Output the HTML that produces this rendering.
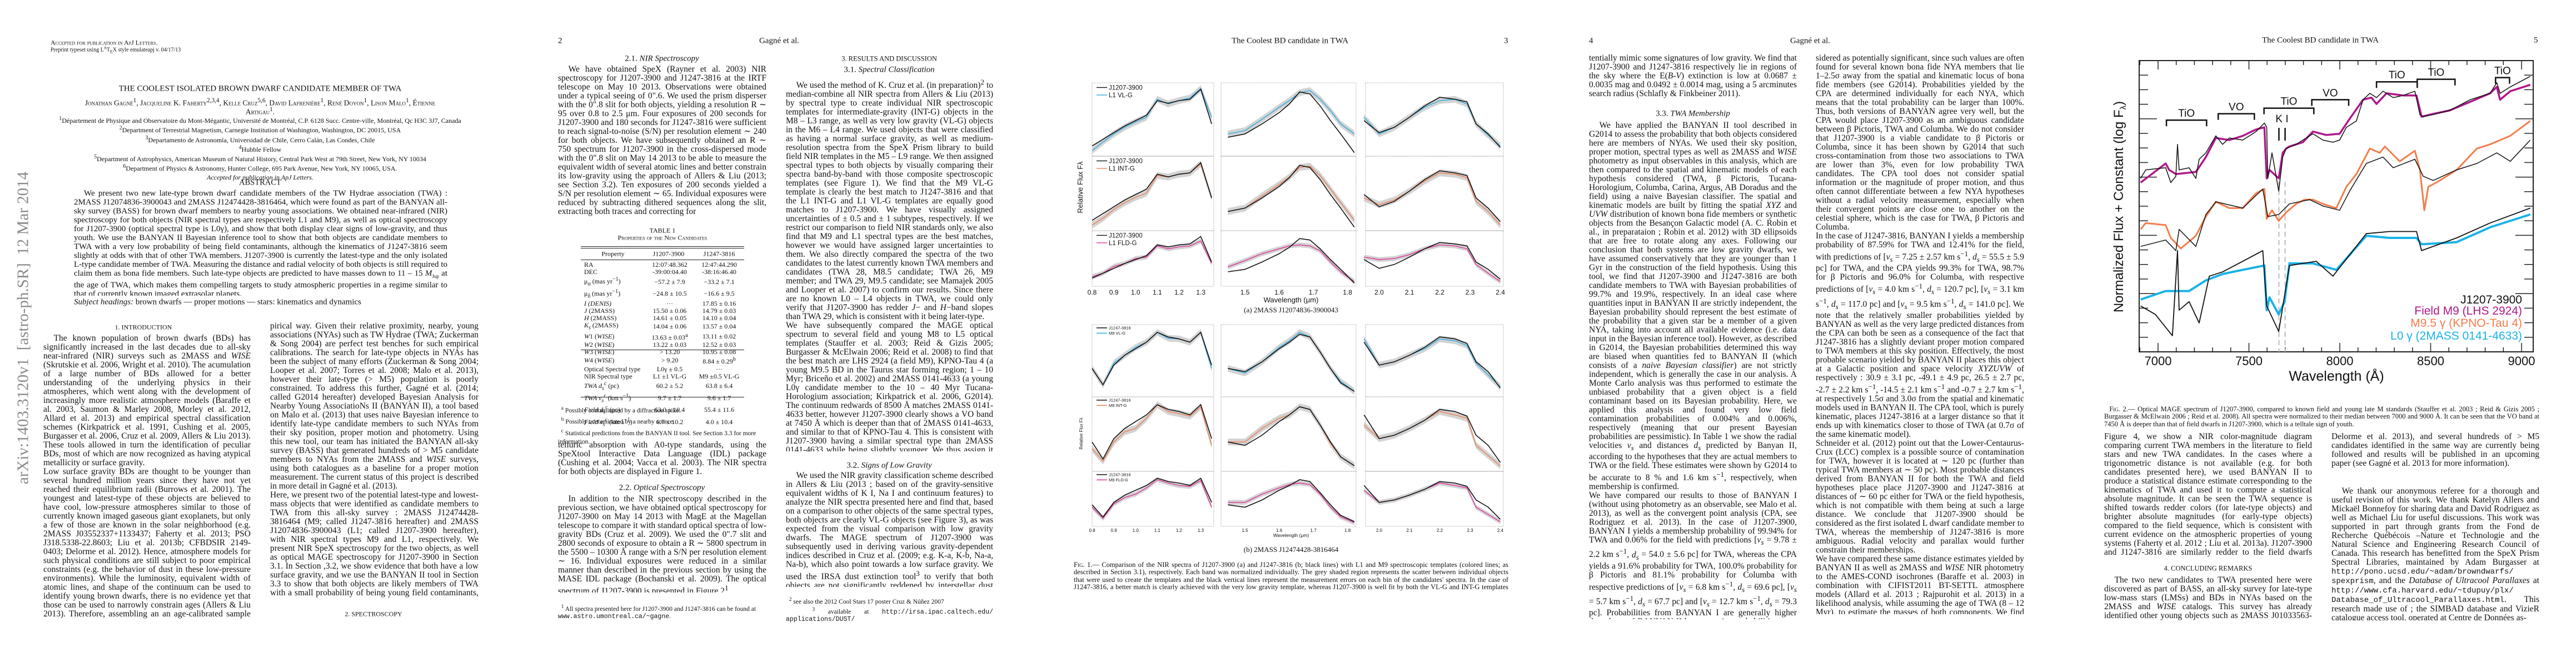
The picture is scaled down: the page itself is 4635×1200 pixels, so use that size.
<!DOCTYPE html>
<html lang="en"><head><meta charset="utf-8">
<style>
html,body{margin:0;padding:0;background:#fff;}
body{width:4635px;height:1200px;position:relative;overflow:hidden;font-family:"Liberation Serif",serif;color:#111;}
.t{position:absolute;font-size:15.5px;line-height:16px;text-align:justify;overflow:hidden;hyphens:auto;-webkit-hyphens:auto;}
.t p{margin:0;}
.ind{text-indent:1.2em;}
.c{position:absolute;transform:translate(-50%,-50%);white-space:nowrap;}
.l{position:absolute;transform:translateY(-50%);white-space:nowrap;}
.sc{font-variant:small-caps;}
.cap{position:absolute;font-size:12.5px;line-height:13.3px;text-align:justify;overflow:hidden;}
.fn{position:absolute;font-size:11.5px;line-height:13px;overflow:hidden;}
table.p{position:absolute;border-collapse:collapse;font-size:12px;line-height:13.2px;}
table.p td{padding:0 4px;white-space:nowrap;}
svg text{font-family:"Liberation Sans",sans-serif;}
</style></head>
<body>
<!-- PAGE 1 -->
<div class="l" style="left:91px;top:77px;font-size:12px;"><span class="sc">Accepted for publication in ApJ Letters.</span></div>
<div class="l" style="left:91px;top:90px;font-size:10px;">Preprint typeset using L<sup style="font-size:7px">A</sup>T<sub style="font-size:8px">E</sub>X style emulateapj v. 04/17/13</div>
<div class="c" style="left:468px;top:160px;font-size:15px;">THE COOLEST ISOLATED BROWN DWARF CANDIDATE MEMBER OF TWA</div>
<div class="c sc" style="left:468px;top:184px;font-size:13.5px;">Jonathan Gagné<sup>1</sup>, Jacqueline K. Faherty<sup>2,3,4</sup>, Kelle Cruz<sup>5,6</sup>, David Lafrenière<sup>1</sup>, René Doyon<sup>1</sup>, Lison Malo<sup>1</sup>, Étienne</div>
<div class="c sc" style="left:468px;top:200px;font-size:13.5px;">Artigau<sup>1</sup>.</div>
<div style="position:absolute;left:0;top:207px;width:936px;text-align:center;font-size:12px;line-height:14.3px;">
<div><sup>1</sup>Département de Physique and Observatoire du Mont-Mégantic, Université de Montréal, C.P. 6128 Succ. Centre-ville, Montréal, Qc H3C 3J7, Canada</div>
<div><sup>2</sup>Department of Terrestrial Magnetism, Carnegie Institution of Washington, Washington, DC 20015, USA</div>
<div><sup>3</sup>Departamento de Astronomía, Universidad de Chile, Cerro Calán, Las Condes, Chile</div>
<div><sup>4</sup>Hubble Fellow</div>
<div><sup>5</sup>Department of Astrophysics, American Museum of Natural History, Central Park West at 79th Street, New York, NY 10034</div>
<div><sup>6</sup>Department of Physics &amp; Astronomy, Hunter College, 695 Park Avenue, New York, NY 10065, USA.</div>
<div style="font-style:italic;margin-top:1px">Accepted for publication in ApJ Letters.</div>
</div>
<div class="c" style="left:468px;top:329px;font-size:14.5px;">ABSTRACT</div>
<div class="t" style="left:133px;top:340px;width:672px;height:192px;font-size:15px;"><p class="ind">We present two new late-type brown dwarf candidate members of the TW Hydrae association (TWA) : 2MASS J12074836-3900043 and 2MASS J12474428-3816464, which were found as part of the BANYAN all-sky survey (BASS) for brown dwarf members to nearby young associations. We obtained near-infrared (NIR) spectroscopy for both objects (NIR spectral types are respectively L1 and M9), as well as optical spectroscopy for J1207-3900 (optical spectral type is L0γ), and show that both display clear signs of low-gravity, and thus youth. We use the BANYAN II Bayesian inference tool to show that both objects are candidate members to TWA with a very low probability of being field contaminants, although the kinematics of J1247-3816 seem slightly at odds with that of other TWA members. J1207-3900 is currently the latest-type and the only isolated L-type candidate member of TWA. Measuring the distance and radial velocity of both objects is still required to claim them as bona fide members. Such late-type objects are predicted to have masses down to 11 – 15 <i>M</i><sub style="font-size:9px">Jup</sub> at the age of TWA, which makes them compelling targets to study atmospheric properties in a regime similar to that of currently known imaged extrasolar planets.</p></div>
<div class="l" style="left:133px;top:544px;font-size:15px;"><i>Subject headings:</i> brown dwarfs — proper motions — stars: kinematics and dynamics</div>
<div class="c" style="left:258px;top:589px;font-size:12px;">1. INTRODUCTION</div>
<div class="t" style="left:78px;top:601px;width:373px;height:512px;"><p class="ind">The known population of brown dwarfs (BDs) has significantly increased in the last decades due to all-sky near-infrared (NIR) surveys such as 2MASS and <i>WISE</i> (Skrutskie et al. 2006, Wright et al. 2010). The acumulation of a large number of BDs allowed for a better understanding of the underlying physics in their atmospheres, which went along with the development of increasingly more realistic atmosphere models (Baraffe et al. 2003, Saumon &amp; Marley 2008, Morley et al. 2012, Allard et al. 2013) and empirical spectral classification schemes (Kirkpatrick et al. 1991, Cushing et al. 2005, Burgasser et al. 2006, Cruz et al. 2009, Allers &amp; Liu 2013). These tools allowed in turn the identification of peculiar BDs, most of which are now recognized as having atypical metallicity or surface gravity.</p><p>Low surface gravity BDs are thought to be younger than several hundred million years since they have not yet reached their equilibrium radii (Burrows et al. 2001). The youngest and latest-type of these objects are believed to have cool, low-pressure atmospheres similar to those of currently known imaged gaseous giant exoplanets, but only a few of those are known in the solar neighborhood (e.g. 2MASS J03552337+1133437; Faherty et al. 2013; PSO J318.5338-22.8603; Liu et al. 2013b; CFBDSIR 2149-0403; Delorme et al. 2012). Hence, atmosphere models for such physical conditions are still subject to poor empirical constraints (e.g. the behavior of dust in these low-pressure environments). While the luminosity, equivalent width of atomic lines, and shape of the continuum can be used to identify young brown dwarfs, there is no evidence yet that those can be used to narrowly constrain ages (Allers &amp; Liu 2013). Therefore, assembling an an age-calibrated sample identified by kinematics could potentially help addressing this in an em-</p></div>
<div class="t" style="left:486px;top:579px;width:375px;height:496px;"><p>pirical way. Given their relative proximity, nearby, young associations (NYAs) such as TW Hydrae (TWA; Zuckerman &amp; Song 2004) are perfect test benches for such empirical calibrations. The search for late-type objects in NYAs has been the subject of many efforts (Zuckerman &amp; Song 2004; Looper et al. 2007; Torres et al. 2008; Malo et al. 2013), however their late-type (&gt; M5) population is poorly constrained. To address this further, Gagné et al. (2014; called G2014 hereafter) developed Bayesian Analysis for Nearby Young AssociatioNs II (BANYAN II), a tool based on Malo et al. (2013) that uses naive Bayesian inference to identify late-type candidate members to such NYAs from their sky position, proper motion and photometry. Using this new tool, our team has initiated the BANYAN all-sky survey (BASS) that generated hundreds of &gt; M5 candidate members to NYAs from the 2MASS and <i>WISE</i> surveys, using both catalogues as a baseline for a proper motion measurement. The current status of this project is described in more detail in Gagné et al. (2013).</p><p>Here, we present two of the potential latest-type and lowest-mass objects that were identified as candidate members to TWA from this all-sky survey : 2MASS J12474428-3816464 (M9; called J1247-3816 hereafter) and 2MASS J12074836-3900043 (L1; called J1207-3900 hereafter), with NIR spectral types M9 and L1, respectively. We present NIR SpeX spectroscopy for the two objects, as well as optical MAGE spectroscopy for J1207-3900 in Section 3.1. In Section ,3.2, we show evidence that both have a low surface gravity, and we use the BANYAN II tool in Section 3.3 to show that both objects are likely members of TWA with a small probability of being young field contaminants, but that J1247-3816 seems to display slightly discrepant kinematics.</p></div>
<div class="c" style="left:672px;top:1105px;font-size:12px;">2. SPECTROSCOPY</div>
<div style="position:absolute;left:42px;top:590px;transform:translate(-50%,-50%) rotate(-90deg);white-space:nowrap;font-size:29px;color:#8a8a8a;">arXiv:1403.3120v1&nbsp; [astro-ph.SR]&nbsp; 12 Mar 2014</div>

<!-- PAGE 2 -->
<div class="l" style="left:1004px;top:74px;font-size:15px;">2</div>
<div class="c" style="left:1402px;top:74px;font-size:15px;">Gagné et al.</div>
<div class="c" style="left:1191px;top:106px;font-size:15px;">2.1. <i>NIR Spectroscopy</i></div>
<div class="t" style="left:1004px;top:117px;width:375px;height:272px;"><p class="ind">We have obtained SpeX (Rayner et al. 2003) NIR spectroscopy for J1207-3900 and J1247-3816 at the IRTF telescope on May 10 2013. Observations were obtained under a typical seeing of 0".6. We used the prism disperser with the 0".8 slit for both objects, yielding a resolution R ∼ 95 over 0.8 to 2.5 μm. Four exposures of 200 seconds for J1207-3900 and 180 seconds for J1247-3816 were sufficient to reach signal-to-noise (S/N) per resolution element ∼ 240 for both objects. We have subsequently obtained an R ∼ 750 spectrum for J1207-3900 in the cross-dispersed mode with the 0".8 slit on May 14 2013 to be able to measure the equivalent width of several atomic lines and better constrain its low-gravity using the approach of Allers &amp; Liu (2013; see Section 3.2). Ten exposures of 200 seconds yielded a S/N per resolution element ∼ 65. Individual exposures were reduced by subtracting dithered sequences along the slit, extracting both traces and correcting for</p></div>
<div class="c" style="left:1192px;top:415px;font-size:12px;">TABLE 1</div>
<div class="c sc" style="left:1192px;top:428px;font-size:12px;">Properties of the New Candidates</div>
<div style="position:absolute;left:1045px;top:443px;width:294px;height:4px;border-top:1px solid #222;border-bottom:1px solid #222;box-sizing:border-box;"></div>
<div style="position:absolute;left:1045px;top:467px;width:294px;border-top:1px solid #222;"></div>
<div style="position:absolute;left:1045px;top:629px;width:294px;border-top:1px solid #222;"></div>
<div style="position:absolute;left:1045px;top:714px;width:294px;border-top:1px solid #222;"></div>
<div class="c" style="left:1103px;top:457px;font-size:12px;">Property</div>
<div class="c" style="left:1203px;top:457px;font-size:12px;">J1207-3900</div>
<div class="c" style="left:1294px;top:457px;font-size:12px;">J1247-3816</div>
<table class="p" style="left:1047px;top:470px;width:290px;">
<colgroup><col style="width:112px"><col style="width:92px"><col style="width:86px"></colgroup>
<tr><td>RA</td><td align="center">12:07:48.362</td><td align="center">12:47:44.290</td></tr>
<tr><td>DEC</td><td align="center">-39:00:04.40</td><td align="center">-38:16:46.40</td></tr>
<tr><td>μ<sub>α</sub> (mas yr<sup>−1</sup>)</td><td align="center">−57.2 ± 7.9</td><td align="center">−33.2 ± 7.1</td></tr>
<tr><td>μ<sub>δ</sub> (mas yr<sup>−1</sup>)</td><td align="center">−24.8 ± 10.5</td><td align="center">−16.6 ± 9.5</td></tr>
<tr><td><i>I (DENIS)</i></td><td align="center">···</td><td align="center">17.85 ± 0.16</td></tr>
<tr><td><i>J</i> (2MASS)</td><td align="center">15.50 ± 0.06</td><td align="center">14.79 ± 0.03</td></tr>
<tr><td><i>H</i> (2MASS)</td><td align="center">14.61 ± 0.05</td><td align="center">14.10 ± 0.04</td></tr>
<tr><td><i>K<sub>s</sub></i> (2MASS)</td><td align="center">14.04 ± 0.06</td><td align="center">13.57 ± 0.04</td></tr>
<tr><td><i>W</i>1 (<i>WISE</i>)</td><td align="center">13.63 ± 0.03<sup>a</sup></td><td align="center">13.11 ± 0.02</td></tr>
<tr><td><i>W</i>2 (<i>WISE</i>)</td><td align="center">13.22 ± 0.03</td><td align="center">12.52 ± 0.03</td></tr>
<tr><td><i>W</i>3 (<i>WISE</i>)</td><td align="center">&gt; 13.20</td><td align="center">10.95 ± 0.08</td></tr>
<tr><td><i>W</i>4 (<i>WISE</i>)</td><td align="center">&gt; 9.20</td><td align="center">8.84 ± 0.29<sup>b</sup></td></tr>
<tr><td>Optical Spectral type</td><td align="center">L0γ ± 0.5</td><td align="center">···</td></tr>
<tr><td>NIR Spectral type</td><td align="center">L1 ±1 VL-G</td><td align="center">M9 ±0.5 VL-G</td></tr>
<tr><td><i>TWA d<sub>s</sub></i><sup>c</sup> (pc)</td><td align="center">60.2 ± 5.2</td><td align="center">63.8 ± 6.4</td></tr>
<tr><td><i>TWA v<sub>s</sub></i><sup>c</sup> (km s<sup>−1</sup>)</td><td align="center">9.7 ± 1.7</td><td align="center">9.6 ± 1.7</td></tr>
<tr><td><i>Field d<sub>s</sub></i><sup>c</sup> (pc)</td><td align="center">63.0 ± 10.4</td><td align="center">55.4 ± 11.6</td></tr>
<tr><td><i>Field v<sub>s</sub></i><sup>c</sup> (km s<sup>−1</sup>)</td><td align="center">6.7 ± 10.2</td><td align="center">4.0 ± 10.4</td></tr>
</table>
<div class="fn" style="left:1004px;top:727px;width:375px;line-height:15.5px;"><div>&nbsp;&nbsp;<sup>a</sup> Possibly contaminated by a diffraction spike.</div><div>&nbsp;&nbsp;<sup>b</sup> Possibly contaminated by a nearby source.</div><div>&nbsp;&nbsp;<sup>c</sup> Statistical predictions from the BANYAN II tool. See Section 3.3 for more information.</div></div>
<div class="t" style="left:1004px;top:793px;width:375px;height:64px;"><p>telluric absorption with A0-type standards, using the SpeXtool Interactive Data Language (IDL) package (Cushing et al. 2004; Vacca et al. 2003). The NIR spectra for both objects are displayed in Figure 1.</p></div>
<div class="c" style="left:1191px;top:878px;font-size:15px;">2.2. <i>Optical Spectroscopy</i></div>
<div class="t" style="left:1004px;top:890px;width:375px;height:176px;"><p class="ind">In addition to the NIR spectroscopy described in the previous section, we have obtained optical spectroscopy for J1207-3900 on May 14 2013 with MagE at the Magellan telescope to compare it with standard optical spectra of low-gravity BDs (Cruz et al. 2009). We used the 0".7 slit and 2800 seconds of exposure to obtain a R ∼ 5800 spectrum in the 5500 – 10300 Å range with a S/N per resolution element ∼ 16. Individual exposures were reduced in a similar manner than described in the previous section by using the MASE IDL package (Bochanski et al. 2009). The optical spectrum of J1207-3900 is presented in Figure 2<sup>1</sup>.</p></div>
<div class="fn" style="left:1004px;top:1085px;width:375px;"><div>&nbsp;&nbsp;<sup>1</sup> All spectra presented here for J1207-3900 and J1247-3816 can be found at <span style="font-family:'Liberation Mono',monospace">www.astro.umontreal.ca/~gagne</span>.</div></div>
<div class="c" style="left:1600px;top:106px;font-size:12.5px;">3. RESULTS AND DISCUSSION</div>
<div class="c" style="left:1600px;top:126px;font-size:15px;">3.1. <i>Spectral Classification</i></div>
<div class="t" style="left:1414px;top:140px;width:373px;height:672px;"><p class="ind">We used the method of K. Cruz et al. (in preparation)<sup>2</sup> to median-combine all NIR spectra from Allers &amp; Liu (2013) by spectral type to create individual NIR spectroscopic templates for intermediate-gravity (INT-G) objects in the M8 – L3 range, as well as very low gravity (VL-G) objects in the M6 – L4 range. We used objects that were classified as having a normal surface gravity, as well as medium-resolution spectra from the SpeX Prism library to build field NIR templates in the M5 – L9 range. We then assigned spectral types to both objects by visually comparing their spectra band-by-band with those composite spectroscopic templates (see Figure 1). We find that the M9 VL-G template is clearly the best match to J1247-3816 and that the L1 INT-G and L1 VL-G templates are equally good matches to J1207-3900. We have visually assigned uncertainties of ± 0.5 and ± 1 subtypes, respectively. If we restrict our comparison to field NIR standards only, we also find that M9 and L1 spectral types are the best matches, however we would have assigned larger uncertainties to them. We also directly compared the spectra of the two candidates to the latest currently known TWA members and candidates (TWA 28, M8.5 candidate; TWA 26, M9 member; and TWA 29, M9.5 candidate; see Mamajek 2005 and Looper et al. 2007) to confirm our results. Since there are no known L0 – L4 objects in TWA, we could only verify that J1207-3900 has redder <i>J</i>− and <i>H</i>−band slopes than TWA 29, which is consistent with it being later-type.</p><p>We have subsequently compared the MAGE optical spectrum to several field and young M8 to L5 optical templates (Stauffer et al. 2003; Reid &amp; Gizis 2005; Burgasser &amp; McElwain 2006; Reid et al. 2008) to find that the best match are LHS 2924 (a field M9), KPNO-Tau 4 (a young M9.5 BD in the Taurus star forming region; 1 – 10 Myr; Briceño et al. 2002) and 2MASS 0141-4633 (a young L0γ candidate member to the 10 – 40 Myr Tucana-Horologium association; Kirkpatrick et al. 2006, G2014). The continuum redwards of 8500 Å matches 2MASS 0141-4633 better, however J1207-3900 clearly shows a VO band at 7450 Å which is deeper than that of 2MASS 0141-4633, and similar to that of KPNO-Tau 4. This is consistent with J1207-3900 having a similar spectral type than 2MASS 0141-4633 while being slightly younger. We thus assign it an optical classification of L0γ (see Figure 2).</p></div>
<div class="c" style="left:1600px;top:838px;font-size:15px;">3.2. <i>Signs of Low Gravity</i></div>
<div class="t" style="left:1414px;top:848px;width:373px;height:208px;"><p class="ind">We used the NIR gravity classification scheme described in Allers &amp; Liu (2013 ; based on of the gravity-sensitive equivalent widths of K I, Na I and continuum features) to analyze the NIR spectra presented here and find that, based on a comparison to other objects of the same spectral types, both objects are clearly VL-G objects (see Figure 3), as was expected from the visual comparison with low gravity dwarfs. The MAGE spectrum of J1207-3900 was subsequently used in deriving various gravity-dependent indices described in Cruz et al. (2009; e.g. K-a, K-b, Na-a, Na-b), which also point towards a low surface gravity. We used the IRSA dust extinction tool<sup>3</sup> to verify that both objects are not significantly reddened by interstellar dust along the line of sight, which could po-</p></div>
<div class="fn" style="left:1414px;top:1072px;width:373px;"><div>&nbsp;&nbsp;<sup>2</sup> see also the 2012 Cool Stars 17 poster Cruz &amp; Núñez 2007</div><div style="text-align:justify">&nbsp;&nbsp;<sup>3</sup> available at <span style="font-family:'Liberation Mono',monospace">http://irsa.ipac.caltech.edu/ applications/DUST/</span></div></div>

<!-- PAGE 3 -->
<div class="c" style="left:2321px;top:74px;font-size:15px;">The Coolest BD candidate in TWA</div>
<div class="l" style="left:2706px;top:74px;font-size:15px;">3</div>
<div class="c" style="left:2323px;top:558px;font-size:13px;">(a) 2MASS J12074836-3900043</div>
<div class="c" style="left:2323px;top:989px;font-size:13px;">(b) 2MASS J12474428-3816464</div>
<div class="cap" style="left:1932px;top:1010px;width:782px;height:54px;"><span class="sc">Fig.</span> 1.— Comparison of the NIR spectra of J1207-3900 (a) and J1247-3816 (b; black lines) with L1 and M9 spectroscopic templates (colored lines; as described in Section 3.1), respectively. Each band was normalized individually. The grey shaded region represents the scatter between individual objects that were used to create the templates and the black vertical lines represent the measurement errors on each bin of the candidates' spectra. In the case of J1247-3816, a better match is clearly achieved with the very low gravity template, whereas J1207-3900 is well fit by both the VL-G and INT-G templates which are quite similar themselves.</div>

<!-- PAGE 4 -->
<div class="l" style="left:2859px;top:74px;font-size:15px;">4</div>
<div class="c" style="left:3257px;top:74px;font-size:15px;">Gagné et al.</div>
<div class="t" style="left:2859px;top:97px;width:374px;height:80px;"><p>tentially mimic some signatures of low gravity. We find that J1207-3900 and J1247-3816 respectively lie in regions of the sky where the E(<i>B</i>-<i>V</i>) extinction is low at 0.0687 ± 0.0035 mag and 0.0492 ± 0.0014 mag, using a 5 arcminutes search radius (Schlafly &amp; Finkbeiner 2011).</p></div>
<div class="c" style="left:3046px;top:205px;font-size:15px;">3.3. <i>TWA Membership</i></div>
<div class="t" style="left:2859px;top:218px;width:374px;height:896px;"><p class="ind">We have applied the BANYAN II tool described in G2014 to assess the probability that both objects considered here are members of NYAs. We used their sky position, proper motion, spectral types as well as 2MASS and <i>WISE</i> photometry as input observables in this analysis, which are then compared to the spatial and kinematic models of each hypothesis considered (TWA, β Pictoris, Tucana-Horologium, Columba, Carina, Argus, AB Doradus and the field) using a naive Bayesian classifier. The spatial and kinematic models are built by fitting the spatial <i>XYZ</i> and <i>UVW</i> distribution of known bona fide members or synthetic objects from the Besançon Galactic model (A. C. Robin et al., in preparataion ; Robin et al. 2012) with 3D ellipsoids that are free to rotate along any axes. Following our conclusion that both systems are low gravity dwarfs, we have assumed conservatively that they are younger than 1 Gyr in the construction of the field hypothesis. Using this tool, we find that J1207-3900 and J1247-3816 are both candidate members to TWA with Bayesian probabilities of 99.7% and 19.9%, respectively. In an ideal case where quantities input in BANYAN II are strictly independent, the Bayesian probability should represent the best estimate of the probability that a given star be a member of a given NYA, taking into account all available evidence (i.e. data input in the Bayesian inference tool). However, as described in G2014, the Bayesian probabilities determined this way are biased when quantities fed to BANYAN II (which consists of a <i>naive Bayesian classifier</i>) are not strictly independent, which is generally the case in our analysis. A Monte Carlo analysis was thus performed to estimate the unbiased probability that a given object is a field contaminant based on its Bayesian probability. Here, we applied this analysis and found very low field contamination probabilities of 0.004% and 0.006%, respectively (meaning that our present Bayesian probabilities are pessimistic). In Table 1 we show the radial velocities <i>v<sub>s</sub></i> and distances <i>d<sub>s</sub></i> predicted by Banyan II, according to the hypotheses that they are actual members to TWA or the field. These estimates were shown by G2014 to be accurate to 8 % and 1.6 km s<sup>−1</sup>, respectively, when membership is confirmed.</p><p>We have compared our results to those of BANYAN I (without using photometry as an observable, see Malo et al. 2013), as well as the convergent point analysis (CPA, see Rodriguez et al. 2013). In the case of J1207-3900, BANYAN I yields a membership probability of 99.94% for TWA and 0.06% for the field with predictions [<i>v<sub>s</sub></i> = 9.78 ± 2.2 km s<sup>−1</sup>, <i>d<sub>s</sub></i> = 54.0 ± 5.6 pc] for TWA, whereas the CPA yields a 91.6% probability for TWA, 100.0% probability for β Pictoris and 81.1% probability for Columba with respective predictions of [<i>v<sub>s</sub></i> = 6.8 km s<sup>−1</sup>, <i>d<sub>s</sub></i> = 69.6 pc], [<i>v<sub>s</sub></i> = 5.7 km s<sup>−1</sup>, <i>d<sub>s</sub></i> = 67.7 pc] and [<i>v<sub>s</sub></i> = 12.7 km s<sup>−1</sup>, <i>d<sub>s</sub></i> = 79.3 pc]. Probabilities from BANYAN I are generally higher than those of BANYAN II because prior probabilities were set to unity in their analysis, whereas prior probabilities in BANYAN II are smaller to reflect the smaller populations of NYAs compared to that of the field. Furthermore, we stress the fact that even BANYAN II probabilities as low as <i>P<sub>H</sub></i> ∼ 20% for any NYA must be con-</p></div>
<div class="t" style="left:3267px;top:97px;width:375px;height:1008px;"><p>sidered as potentially significant, since such values are often found for several known bona fide NYA members that lie 1–2.5σ away from the spatial and kinematic locus of bona fide members (see G2014). Probabilities yielded by the CPA are determined individually for each NYA, which means that the total probability can be larger than 100%. Thus, both versions of BANYAN agree very well, but the CPA would place J1207-3900 as an ambiguous candidate between β Pictoris, TWA and Columba. We do not consider that J1207-3900 is a viable candidate to β Pictoris or Columba, since it has been shown by G2014 that such cross-contamination from those two associations to TWA are lower than 3%, even for low probability TWA candidates. The CPA tool does not consider spatial information or the magnitude of proper motion, and thus often cannot differentiate between a few NYA hypotheses without a radial velocity measurement, especially when their convergent points are close one to another on the celestial sphere, which is the case for TWA, β Pictoris and Columba.</p><p>In the case of J1247-3816, BANYAN I yields a membership probability of 87.59% for TWA and 12.41% for the field, with predictions of [<i>v<sub>s</sub></i> = 7.25 ± 2.57 km s<sup>−1</sup>, <i>d<sub>s</sub></i> = 55.5 ± 5.9 pc] for TWA, and the CPA yields 99.3% for TWA, 98.7% for β Pictoris and 96.0% for Columba, with respective predictions of [<i>v<sub>s</sub></i> = 4.0 km s<sup>−1</sup>, <i>d<sub>s</sub></i> = 120.7 pc], [<i>v<sub>s</sub></i> = 3.1 km s<sup>−1</sup>, <i>d<sub>s</sub></i> = 117.0 pc] and [<i>v<sub>s</sub></i> = 9.5 km s<sup>−1</sup>, <i>d<sub>s</sub></i> = 141.0 pc]. We note that the relatively smaller probabilities yielded by BANYAN as well as the very large predicted distances from the CPA can both be seen as a consequence of the fact that J1247-3816 has a slightly deviant proper motion compared to TWA members at this sky position. Effectively, the most probable scenario yielded by BANYAN II places this object at a Galactic position and space velocity <i>XYZUVW</i> of respectively : 30.9 ± 3.1 pc, -49.1 ± 4.9 pc, 26.5 ± 2.7 pc, -2.7 ± 2.2 km s<sup>−1</sup>, -14.5 ± 2.1 km s<sup>−1</sup> and -0.7 ± 2.7 km s<sup>−1</sup>, at respectively 1.5σ and 3.0σ from the spatial and kinematic models used in BANYAN II. The CPA tool, which is purely kinematic, places J1247-3816 at a larger distance so that it ends up with kinematics closer to those of TWA (at 0.7σ of the same kinematic model).</p><p>Schneider et al. (2012) point out that the Lower-Centaurus-Crux (LCC) complex is a possible source of contamination for TWA, however it is located at ∼ 120 pc (further than typical TWA members at ∼ 50 pc). Most probable distances derived from BANYAN II for both the TWA and field hypotheses place place J1207-3900 and J1247-3816 at distances of ∼ 60 pc either for TWA or the field hypothesis, which is not compatible with them being at such a large distance. We conclude that J1207-3900 should be considered as the first isolated L dwarf candidate member to TWA, whereas the membership of J1247-3816 is more ambiguous. Radial velocity and parallax would further constrain their memberships.</p><p>We have compared these same distance estimates yielded by BANYAN II as well as 2MASS and <i>WISE</i> NIR photometry to the AMES-COND isochrones (Baraffe et al. 2003) in combination with CIFIST2011 BT-SETTL atmosphere models (Allard et al. 2013 ; Rajpurohit et al. 2013) in a likelihood analysis, while assuming the age of TWA (8 – 12 Myr), to estimate the masses of both components. We find that J1207-3900 is thus a candidate 11 – 13 <i>M</i><sub>Jup</sub> BD and J1247-3816 is a candidate 14 – 15 <i>M</i><sub>Jup</sub> BD.</p><p>Both new candidates presented here bring the opportunity of extending the population of TWA members redward in a color-magnitude diagram, up into the L dwarfs regime. In</p></div>

<!-- PAGE 5 -->
<div class="c" style="left:4175px;top:73px;font-size:15px;">The Coolest BD candidate in TWA</div>
<div class="l" style="left:4559px;top:73px;font-size:15px;">5</div>
<div class="cap" style="left:3786px;top:730px;width:783px;height:42px;"><span class="sc">&nbsp;&nbsp;Fig.</span> 2.— Optical MAGE spectrum of J1207-3900, compared to known field and young late M standards (Stauffer et al. 2003 ; Reid &amp; Gizis 2005 ; Burgasser &amp; McElwain 2006 ; Reid et al. 2008). All spectra were normalized to their median between 7000 and 9000 Å. It can be seen that the VO band at 7450 Å is deeper than that of field dwarfs in J1207-3900, which is a telltale sign of youth.</div>
<div class="t" style="left:3786px;top:778px;width:374px;height:224px;"><p>Figure 4, we show a NIR color-magnitude diagram comparing current TWA members in the literature to field stars and new TWA candidates. In the cases where a trigonometric distance is not available (e.g. for both candidates presented here), we used BANYAN II to produce a statistical distance estimate corresponding to the kinematics of TWA and used it to compute a statistical absolute magnitude. It can be seen the TWA sequence is shifted towards redder colors (for late-type objects) and brighter absolute magnitudes (for early-type objects) compared to the field sequence, which is consistent with current evidence on the atmospheric properties of young systems (Faherty et al. 2012 ; Liu et al. 2013a). J1207-3900 and J1247-3816 are similarly redder to the field dwarfs sequence, and extend the TWA sequence.</p></div>
<div class="c" style="left:3973px;top:1023px;font-size:12.5px;">4. CONCLUDING REMARKS</div>
<div class="t" style="left:3786px;top:1036px;width:374px;height:80px;"><p class="ind">The two new candidates to TWA presented here were discovered as part of BASS, an all-sky survey for late-type low-mass stars (LMSs) and BDs in NYAs based on the 2MASS and <i>WISE</i> catalogs. This survey has already identified other young objects such as 2MASS J01033563-5515561 ABb (see</p></div>
<div class="t" style="left:4195px;top:778px;width:374px;height:64px;"><p>Delorme et al. 2013), and several hundreds of &gt; M5 candidates identified in the same way are currently being followed and results will be published in an upcoming paper (see Gagné et al. 2013 for more information).</p></div>
<div class="t" style="left:4195px;top:876px;width:374px;height:240px;"><p class="ind">We thank our anonymous referee for a thorough and useful revision of this work. We thank Katelyn Allers and Mickaël Bonnefoy for sharing data and David Rodriguez as well as Michael Liu for useful discussions. This work was supported in part through grants from the Fond de Recherche Québécois –Nature et Technologie and the Natural Science and Engineering Research Council of Canada. This research has benefitted from the SpeX Prism Spectral Libraries, maintained by Adam Burgasser at <span style="font-family:'Liberation Mono',monospace;font-size:14px">http://pono.ucsd.edu/~adam/browndwarfs/ spexprism</span>, and the <i>Database of Ultracool Parallaxes</i> at <span style="font-family:'Liberation Mono',monospace;font-size:14px">http://www.cfa.harvard.edu/~tdupuy/plx/ Database_of_Ultracool_Parallaxes.html</span>. This research made use of ; the SIMBAD database and VizieR catalogue access tool, operated at Centre de Données as-</p></div>

<svg id="charts" width="4635" height="1200" style="position:absolute;left:0;top:0;pointer-events:none;" xmlns="http://www.w3.org/2000/svg"></svg>

<script>
// ===== Figure 2 (page 5) data =====
const fieldWave = [6904,7042,7061,7098,7208,7263,7318,7392,7466,7539,7585,7598,7613,7664,7686,7705,7723,7797,7852,7926,7999,8054,8128,8174,8202,8257,8349,8422,8450,8496,8606,8717,8827,8864,8882,8938,9048];
const fieldFlux = [39.8,44.3,42.8,41.8,42.3,45.8,50.3,49.8,50.8,52.3,52.8,40.8,42.8,40.8,46.8,47.8,48.3,49.3,51.8,51.0,51.3,54.8,59.3,59.8,58.3,60.8,60.3,60.3,55.3,55.8,56.8,58.8,60.8,62.3,59.3,61.3,62.8];
const obsTopWave = [6904,6932,7042,7070,7098,7107,7116,7171,7208,7226,7263,7318,7355,7392,7466,7539,7585,7598,7604,7627,7664,7686,7705,7760,7797,7852,7907,7962,7999,8036,8091,8128,8165,8202,8238,8294,8349,8413,8441,8459,8514,8606,8717,8827,8864,8882,8938,9048];
const obsTopFlux = [40.8,42.8,43.3,39.8,41.3,48.8,42.8,43.3,40.8,45.3,46.8,50.8,48.8,50.3,49.8,51.8,53.8,52.8,40.8,46.8,37.8,45.8,47.8,48.8,49.8,51.3,49.8,49.3,49.8,52.8,54.3,59.3,60.8,59.8,61.3,59.8,60.3,61.3,55.8,55.3,55.8,56.8,59.3,60.8,63.3,60.8,62.3,64.8];
const kpnoWave = [6904,6932,7042,7070,7125,7208,7263,7318,7392,7466,7539,7585,7598,7627,7664,7705,7760,7806,7852,7907,7981,8036,8091,8165,8220,8248,8330,8413,8441,8465,8487,8551,8643,8754,8827,8938,9048];
const kpnoFlux = [28.8,30.3,29.8,26.8,24.3,27.3,31.8,35.3,33.8,33.8,37.3,38.3,31.3,33.3,30.8,32.8,34.8,35.8,35.8,34.8,33.8,38.8,41.8,47.8,46.8,48.3,44.8,47.3,42.8,33.3,38.8,40.3,42.8,47.8,48.8,50.8,54.3];
const obsMidWave = [6904,7042,7098,7116,7208,7263,7318,7466,7576,7604,7664,7723,7834,7907,7999,8054,8146,8238,8294,8413,8459,8514,8643,8754,8864,8938,9048];
const obsMidFlux = [24.8,26.3,23.8,28.8,24.8,32.3,35.3,33.8,38.3,31.8,32.3,34.8,35.8,34.3,33.3,37.8,44.3,45.8,43.3,45.3,41.3,40.3,42.8,44.3,46.8,44.8,49.8];
const l0Wave = [6904,7042,7171,7263,7355,7466,7585,7598,7613,7664,7696,7723,7852,7981,8054,8146,8275,8422,8450,8643,8827,9048];
const l0Flux = [12.3,14.3,14.3,16.8,18.3,19.3,20.3,9.8,12.8,8.8,11.8,20.8,20.8,19.3,22.8,27.3,26.8,26.8,25.3,25.8,29.3,32.3];
const obsBotWave = [6904,6985,7079,7107,7116,7171,7226,7282,7355,7466,7576,7598,7664,7723,7870,7962,8054,8146,8275,8422,8450,8643,8827,9048];
const obsBotFlux = [10.8,8.8,3.8,23.8,9.8,11.8,6.8,17.8,18.8,21.3,23.8,10.8,4.8,20.3,21.3,17.8,22.8,27.8,28.3,28.3,23.8,26.8,30.3,33.8];
const bandStart = [7046,7331,7583,7846,8202,8426,8857];
const bandEnd = [7267,7530,7857,8049,8426,8634,8934];
const bandLabel = ['TiO','VO','TiO','VO','TiO','TiO','TiO'];
const bandLevel = [54.5,56.0,57.3,59.3,63.5,64.1,64.5];
const kiLines = [7665,7699];
const xTickLabels = [7000,7500,8000,8500,9000];
const yMajorTicks = [13.7,27.4,41.1,54.8];
const legendLabels = ['J1207-3900','Field M9 (LHS 2924)','M9.5 γ (KPNO-Tau 4)','L0 γ (2MASS 0141-4633)'];

// ===== Figure 1 (page 3) data =====
const jWave = [0.8,0.85,0.9,0.95,1.0,1.05,1.1,1.15,1.2,1.25,1.3,1.35];
const hWave = [1.45,1.5,1.55,1.6,1.63,1.66,1.69,1.72,1.75,1.78,1.82];
const kWave = [1.95,2.0,2.05,2.1,2.15,2.2,2.25,2.29,2.32,2.36,2.4];
const jObsA = [0.12,0.22,0.32,0.42,0.5,0.58,0.8,0.76,0.8,0.82,0.97,0.45];
const jVLA = [0.05,0.18,0.3,0.4,0.48,0.55,0.82,0.75,0.8,0.84,0.98,0.55];
const jINTA = [0.05,0.15,0.28,0.38,0.46,0.52,0.78,0.76,0.8,0.82,0.95,0.45];
const jFLDA = [0.15,0.22,0.36,0.42,0.52,0.55,0.78,0.72,0.76,0.78,0.88,0.42];
const hObsA = [0.25,0.3,0.45,0.62,0.75,0.93,0.9,0.72,0.5,0.3,0.02];
const hVLA = [0.3,0.35,0.52,0.7,0.8,0.92,0.95,0.82,0.65,0.45,0.3];
const hINTA = [0.25,0.3,0.48,0.65,0.76,0.9,0.92,0.78,0.58,0.38,0.12];
const hFLDA = [0.35,0.48,0.62,0.72,0.78,0.8,0.78,0.68,0.45,0.25,0.05];
const kObsA = [0.5,0.32,0.4,0.55,0.72,0.85,0.82,0.78,0.45,0.3,0.1];
const kVLA = [0.55,0.3,0.4,0.55,0.7,0.8,0.82,0.75,0.45,0.28,0.12];
const kINTA = [0.45,0.35,0.42,0.55,0.7,0.82,0.8,0.75,0.4,0.25,0.05];
const kFLDA = [0.55,0.5,0.52,0.6,0.72,0.8,0.78,0.72,0.4,0.22,0.05];
const jObsB = [0.4,0.15,0.45,0.6,0.7,0.8,0.95,0.88,0.85,0.8,0.95,0.45];
const jVLB = [0.4,0.15,0.48,0.6,0.72,0.8,0.95,0.86,0.85,0.8,0.95,0.4];
const jINTB = [0.3,0.12,0.4,0.55,0.6,0.75,0.95,0.85,0.82,0.78,0.92,0.35];
const jFLDB = [0.35,0.12,0.42,0.55,0.62,0.75,0.92,0.85,0.8,0.78,0.9,0.35];
const hObsB = [0.4,0.35,0.5,0.7,0.8,0.92,0.88,0.65,0.4,0.18,0.05];
const hVLB = [0.4,0.33,0.5,0.72,0.82,0.95,0.88,0.65,0.4,0.2,0.05];
const hINTB = [0.4,0.4,0.6,0.75,0.8,0.92,0.88,0.65,0.38,0.18,0.05];
const hFLDB = [0.45,0.45,0.62,0.75,0.82,0.85,0.82,0.62,0.35,0.15,0.03];
const kObsB = [0.8,0.45,0.5,0.6,0.72,0.88,0.85,0.78,0.5,0.35,0.1];
const kVLB = [0.85,0.45,0.5,0.6,0.7,0.85,0.82,0.75,0.48,0.3,0.12];
const kINTB = [0.65,0.45,0.5,0.6,0.72,0.85,0.8,0.75,0.35,0.2,0.05];
const kFLDB = [0.7,0.45,0.5,0.6,0.72,0.85,0.8,0.75,0.35,0.2,0.05];
const jTicks = [0.8,0.9,1.0,1.1,1.2,1.3];
const hTicks = [1.5,1.6,1.7,1.8];
const kTicks = [2.0,2.1,2.2,2.3,2.4];

const NS = 'http://www.w3.org/2000/svg';
const svg = document.getElementById('charts');
function mk(tag, attrs, parent){
  const e = document.createElementNS(NS, tag);
  for (const k in attrs) e.setAttribute(k, attrs[k]);
  (parent || svg).appendChild(e);
  return e;
}
function pathFrom(xs, ys, fx, fy){
  return xs.map((x,i)=>(i?'L':'M')+fx(x).toFixed(1)+','+fy(ys[i]).toFixed(1)).join(' ');
}

// ---- Figure 2 ----
const x5 = l => 3883 + (l - 7000) * 0.327;
const y5 = f => 633 - f / 68.5 * 524;
const P5 = {l:3849, r:4558, t:109, b:633};
const g5 = mk('g', {});


const frame5 = mk('rect', {x:P5.l, y:P5.t, width:P5.r-P5.l, height:P5.b-P5.t, fill:'none', stroke:'#222', 'stroke-width':2}, g5);


for (let l = 6900; l <= 9060; l += 100) {
  const X = x5(l); if (X < P5.l + 1 || X > P5.r - 1) continue;
  const major = (l % 500 === 0);
  const len = major ? 16 : 8;
  mk('line', {x1:X, x2:X, y1:P5.b, y2:P5.b-len, stroke:'#222', 'stroke-width':1.5}, g5);
  mk('line', {x1:X, x2:X, y1:P5.t, y2:P5.t+len, stroke:'#222', 'stroke-width':1.5}, g5);
}
xTickLabels.forEach(v => {
  const t = mk('text', {x:x5(v), y:657, 'font-size':22, 'text-anchor':'middle', fill:'#111'}, g5);
  t.textContent = v;
  
  
});
const yStep = yMajorTicks[1] - yMajorTicks[0];
for (let f = yMajorTicks[0] - yStep; f < 68.5; f += yStep / 4) {
  const Y = y5(f); if (Y < P5.t + 2 || Y > P5.b - 2) continue;
  const isMajor = yMajorTicks.some(m => Math.abs(m - f) < 0.01);
  const len = isMajor ? 32 : 16;
  mk('line', {x1:P5.l, x2:P5.l+len, y1:Y, y2:Y, stroke:'#222', 'stroke-width':1.5}, g5);
  mk('line', {x1:P5.r, x2:P5.r-len, y1:Y, y2:Y, stroke:'#222', 'stroke-width':1.5}, g5);
}
const xl5 = mk('text', {x:4204, y:685, 'font-size':25, 'text-anchor':'middle', fill:'#111'}, g5);
xl5.textContent = 'Wavelength (Å)';


const yl5 = mk('text', {x:0, y:0, 'font-size':24, 'text-anchor':'middle', fill:'#111', transform:'translate(3820,372) rotate(-90)'}, g5);
yl5.innerHTML = 'Normalized Flux + Constant (log F<tspan font-size="15" dy="5">λ</tspan><tspan dy="-5">)</tspan>';


kiLines.forEach(l => {
  const d = mk('line', {x1:x5(l), x2:x5(l), y1:327, y2:P5.b, stroke:'#bbb', 'stroke-width':2, 'stroke-dasharray':'9,6'}, g5);
  
  
  mk('line', {x1:x5(l), x2:x5(l), y1:230, y2:253, stroke:'#111', 'stroke-width':2.5}, g5);
});
const kiT = mk('text', {x:x5(7682), y:220, 'font-size':19, 'text-anchor':'middle', fill:'#111'}, g5);
kiT.textContent = 'K I';


bandStart.forEach((s, i) => {
  const Y = y5(bandLevel[i]);
  const b = mk('path', {d:`M${x5(s)},${Y+11} L${x5(s)},${Y} L${x5(bandEnd[i])},${Y} L${x5(bandEnd[i])},${Y+11}`, fill:'none', stroke:'#111', 'stroke-width':2.5}, g5);
  
  
  const t = mk('text', {x:(x5(s)+x5(bandEnd[i]))/2, y:Y-6, 'font-size':19, 'text-anchor':'middle', fill:'#111'}, g5);
  t.textContent = bandLabel[i];
  
  
});
const series5 = [
  [fieldWave, fieldFlux, '#b0178c', 3.5, 'series-field-m9'],
  [obsTopWave, obsTopFlux, '#111', 1.5, 'series-j1207-top'],
  [kpnoWave, kpnoFlux, '#f47c4a', 3, 'series-kpno-tau4'],
  [obsMidWave, obsMidFlux, '#111', 1.5, 'series-j1207-middle'],
  [l0Wave, l0Flux, '#1ab2e8', 4, 'series-2mass-0141'],
  [obsBotWave, obsBotFlux, '#111', 1.8, 'series-j1207-bottom']
];
series5.forEach(s => {
  const p = mk('path', {d:pathFrom(s[0], s[1], x5, y5), fill:'none', stroke:s[2], 'stroke-width':s[3], 'stroke-linejoin':'round'}, g5);
  
  
});
const legColors = ['#111', '#b0178c', '#f47c4a', '#1ab2e8'];
const legY = [546, 566, 588, 611];
legendLabels.forEach((lab, i) => {
  const t = mk('text', {x:4538, y:legY[i], 'font-size':21, 'text-anchor':'end', fill:legColors[i]}, g5);
  t.textContent = lab;
  
  
});

// ---- Figure 1 ----
const cols = [
  {x0:1965, x1:2184, d0:0.8, d1:1.36, wave:jWave, ticks:jTicks},
  {x0:2197, x1:2440, d0:1.43, d1:1.825, wave:hWave, ticks:hTicks},
  {x0:2457, x1:2705, d0:1.955, d1:2.41, wave:kWave, ticks:kTicks}
];
const figA = {rows:[[149,281],[281,415],[415,515]], obs:[jObsA,hObsA,kObsA],
  tmpl:[[jVLA,hVLA,kVLA],[jINTA,hINTA,kINTA],[jFLDA,hFLDA,kFLDA]],
  name:'J1207-3900', tnames:['L1 VL-G','L1 INT-G','L1 FLD-G'], fs:11.5, tickY:530, tickFs:12, xlabY:544, xlabFs:13, ylabY:337, ylabFs:13, tag:'figure-1a'};
const figB = {rows:[[584,714],[714,848],[848,947]], obs:[jObsB,hObsB,kObsB],
  tmpl:[[jVLB,hVLB,kVLB],[jINTB,hINTB,kINTB],[jFLDB,hFLDB,kFLDB]],
  name:'J1247-3816', tnames:['M9 VL-G','M9 INT-G','M9 FLD-G'], fs:7.5, tickY:957, tickFs:8, xlabY:966, xlabFs:8.5, ylabY:780, ylabFs:8, tag:'figure-1b'};
const tColors = ['#29abe2', '#ef7d4f', '#e0359a'];
[figA, figB].forEach(F => {
  const g = mk('g', {});
  
  
  F.rows.forEach((r, ri) => {
    cols.forEach((c, ci) => {
      const fx = v => c.x0 + (v - c.d0) / (c.d1 - c.d0) * (c.x1 - c.x0);
      const h = r[1] - r[0];
      const fy = v => r[1] - 4 - v * (h - 12);
      const fr = mk('rect', {x:c.x0, y:r[0], width:c.x1-c.x0, height:h, fill:'none', stroke:'#888', 'stroke-width':0.8, 'stroke-dasharray':'1.5,1.5'}, g);
      
      
      const tv = F.tmpl[ri][ci];
      const up = c.wave.map((w, i) => fx(w).toFixed(1) + ',' + fy(tv[i] + 0.05).toFixed(1));
      const dn = c.wave.map((w, i) => fx(w).toFixed(1) + ',' + fy(tv[i] - 0.05).toFixed(1)).reverse();
      const band = mk('polygon', {points:up.concat(dn).join(' '), fill:'#d3d3d3'}, g);
      
      
      const tp = mk('path', {d:pathFrom(c.wave, tv, fx, fy), fill:'none', stroke:tColors[ri], 'stroke-width':1.4}, g);
      
      
      const op = mk('path', {d:pathFrom(c.wave, F.obs[ci], fx, fy), fill:'none', stroke:'#111', 'stroke-width':1.6}, g);
      
      
      if (ci === 0) {
        const ly1 = r[0] + F.fs + 1, ly2 = r[0] + 2 * F.fs + 3;
        mk('line', {x1:c.x0+8, x2:c.x0+27, y1:ly1-F.fs*0.35, y2:ly1-F.fs*0.35, stroke:'#111', 'stroke-width':1.4}, g);
        const t1 = mk('text', {x:c.x0+30, y:ly1, 'font-size':F.fs, fill:'#111'}, g);
        t1.textContent = F.name;
        
        
        mk('line', {x1:c.x0+8, x2:c.x0+27, y1:ly2-F.fs*0.35, y2:ly2-F.fs*0.35, stroke:tColors[ri], 'stroke-width':1.4}, g);
        const t2 = mk('text', {x:c.x0+30, y:ly2, 'font-size':F.fs, fill:'#111'}, g);
        t2.textContent = F.tnames[ri];
        
        
      }
      if (ri === F.rows.length - 1) {
        c.ticks.forEach(tk => {
          const t = mk('text', {x:fx(tk), y:F.tickY, 'font-size':F.tickFs, 'text-anchor':'middle', fill:'#111'}, g);
          t.textContent = tk.toFixed(1);
          
          
        });
      }
    });
  });
  const xl = mk('text', {x:2323, y:F.xlabY, 'font-size':F.xlabFs, 'text-anchor':'middle', fill:'#111'}, g);
  xl.textContent = 'Wavelength (μm)';
  
  
  const yl = mk('text', {x:0, y:0, 'font-size':F.ylabFs, 'text-anchor':'middle', fill:'#111', transform:`translate(${1948},${F.ylabY}) rotate(-90)`}, g);
  yl.textContent = 'Relative Flux Fλ';
  
  
});
</script>
</body></html>
